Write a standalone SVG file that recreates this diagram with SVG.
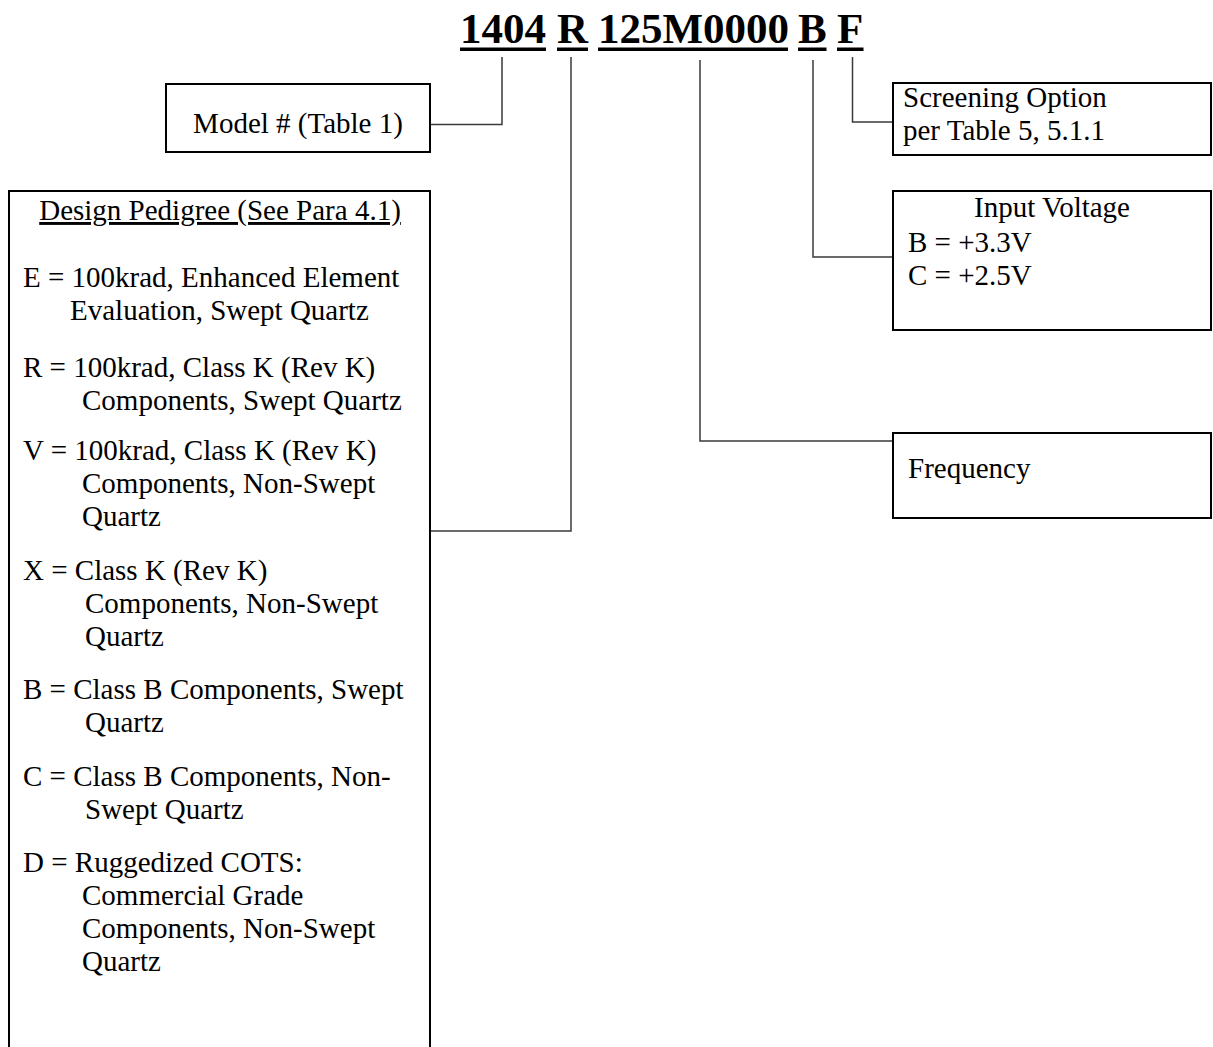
<svg xmlns="http://www.w3.org/2000/svg" width="1213" height="1047" viewBox="0 0 1213 1047">
<style>
text{font-family:"Liberation Serif","Times New Roman",serif;fill:#000}
.t{font-size:29px}
.h{font-size:43px;font-weight:bold}
.box{fill:#fff;stroke:#000;stroke-width:2}
.ul{fill:#000}
.c{fill:none;stroke:#3a3a3a;stroke-width:1.5}
</style>
<rect width="1213" height="1047" fill="#fff"/>
<g id="part-number">
<text class="h" x="460" y="43">1404</text>
<text class="h" x="557" y="43">R</text>
<text class="h" x="598" y="43">125M0000</text>
<text class="h" x="798" y="43">B</text>
<text class="h" x="837" y="43">F</text>
<rect class="ul" x="460" y="47.5" width="86" height="3.5"/>
<rect class="ul" x="557" y="47.5" width="31" height="3.5"/>
<rect class="ul" x="598" y="47.5" width="190" height="3.5"/>
<rect class="ul" x="798" y="47.5" width="28.5" height="3.5"/>
<rect class="ul" x="837" y="47.5" width="26.5" height="3.5"/>
</g>
<g id="connectors">
<path class="c" d="M502 57V124.5H430"/>
<path class="c" d="M571 57V531H430"/>
<path class="c" d="M700 60V441H893"/>
<path class="c" d="M813 60V257H893"/>
<path class="c" d="M852.5 57V122H893"/>
</g>
<g id="model">
<rect class="box" x="166" y="84" width="264" height="68"/>
<text class="t" x="298" y="133" text-anchor="middle">Model # (Table 1)</text>
</g>
<g id="screening">
<rect class="box" x="893" y="83" width="318" height="72"/>
<text class="t" x="903" y="107">Screening Option</text>
<text class="t" x="903" y="140">per Table 5, 5.1.1</text>
</g>
<g id="input-voltage">
<rect class="box" x="893" y="191" width="318" height="139"/>
<text class="t" x="1052" y="217" text-anchor="middle">Input Voltage</text>
<text class="t" x="908" y="252">B = +3.3V</text>
<text class="t" x="908" y="285">C = +2.5V</text>
</g>
<g id="frequency">
<rect class="box" x="893" y="433" width="318" height="85"/>
<text class="t" x="908" y="478">Frequency</text>
</g>
<g id="pedigree">
<rect class="box" x="9" y="191" width="421" height="880"/>
<text class="t" x="220" y="220" text-anchor="middle" text-decoration="underline">Design Pedigree (See Para 4.1)</text>
<text class="t" x="23" y="287">E = 100krad, Enhanced Element</text>
<text class="t" x="70" y="320">Evaluation, Swept Quartz</text>
<text class="t" x="23" y="377">R = 100krad, Class K (Rev K)</text>
<text class="t" x="82" y="410">Components, Swept Quartz</text>
<text class="t" x="23" y="460">V = 100krad, Class K (Rev K)</text>
<text class="t" x="82" y="493">Components, Non-Swept</text>
<text class="t" x="82" y="526">Quartz</text>
<text class="t" x="23" y="579.5">X = Class K (Rev K)</text>
<text class="t" x="85" y="612.5">Components, Non-Swept</text>
<text class="t" x="85" y="645.5">Quartz</text>
<text class="t" x="23" y="699">B = Class B Components, Swept</text>
<text class="t" x="85" y="732">Quartz</text>
<text class="t" x="23" y="785.5">C = Class B Components, Non-</text>
<text class="t" x="85" y="818.5">Swept Quartz</text>
<text class="t" x="23" y="872">D = Ruggedized COTS:</text>
<text class="t" x="82" y="905">Commercial Grade</text>
<text class="t" x="82" y="938">Components, Non-Swept</text>
<text class="t" x="82" y="971">Quartz</text>
</g>
</svg>
